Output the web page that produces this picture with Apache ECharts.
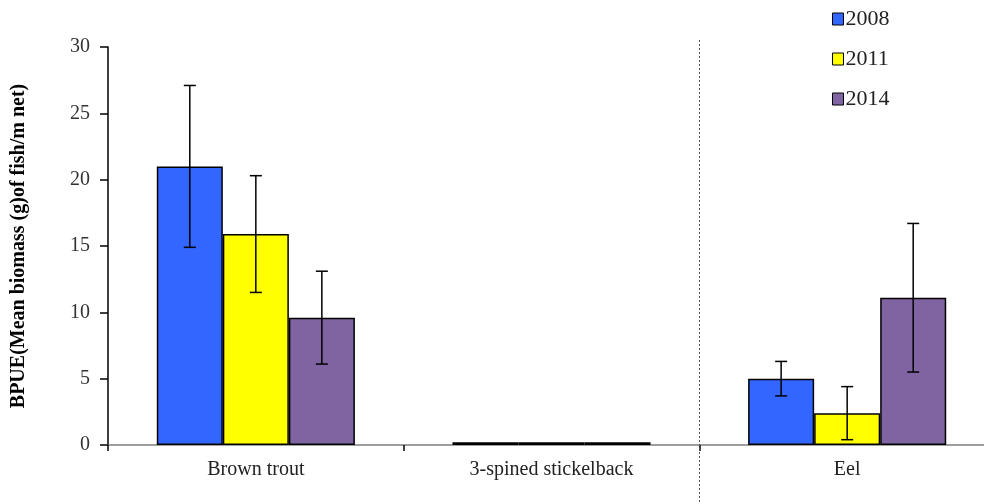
<!DOCTYPE html>
<html>
<head>
<meta charset="utf-8">
<script src="https://cdn.jsdelivr.net/npm/echarts@6/dist/echarts.min.js"></script>
<style>html,body{margin:0;padding:0;background:#fff}#c{width:984px;height:504px}</style>
</head>
<body>
<div id="c"></div>
<script>
var categories = ['Brown trout', '3-spined stickelback', 'Eel'];
var seriesNames = ['2008', '2011', '2014'];
var values2008 = [21.0, 0.2, 5.0];
var values2011 = [15.9, 0.2, 2.4];
var values2014 = [9.6, 0.2, 11.1];
var err2008 = [6.1, 0, 1.3];
var err2011 = [4.4, 0, 2.0];
var err2014 = [3.5, 0, 5.6];
var yTicks = [0, 5, 10, 15, 20, 25, 30];
var colors = ['#3366ff', '#ffff00', '#8064a2'];

var values = [values2008, values2011, values2014];
var errs = [err2008, err2011, err2014];
var font = '"Liberation Serif", "Times New Roman", serif';
var gapPct = 0.33;

var chart = echarts.init(document.getElementById('c'));
var series = [];
seriesNames.forEach(function (name, s) {
  series.push({
    name: name,
    type: 'bar',
    data: values[s],
    barGap: '0%',
    barCategoryGap: (gapPct * 100) + '%',
    itemStyle: { color: colors[s], borderColor: '#000', borderWidth: 1.5 },
    emphasis: { disabled: true }
  });
});
seriesNames.forEach(function (name, s) {
  var data = values[s].map(function (v, i) { return [i, v, errs[s][i]]; });
  series.push({
    type: 'custom',
    silent: true,
    z: 5,
    data: data,
    renderItem: function (params, api) {
      var err = api.value(2);
      if (!err) return null;
      var idx = api.value(0), v = api.value(1);
      var band = api.size([1, 0])[0];
      var bw = band * (1 - gapPct) / 3;
      var c = api.coord([idx, v]);
      var x = c[0] + (s - 1) * bw;
      var yTop = api.coord([idx, v + err])[1];
      var yBot = api.coord([idx, v - err])[1];
      var cap = 6;
      var st = { stroke: '#000', lineWidth: 1.5 };
      return { type: 'group', children: [
        { type: 'line', shape: { x1: x, y1: yTop, x2: x, y2: yBot }, style: st },
        { type: 'line', shape: { x1: x - cap, y1: yTop, x2: x + cap, y2: yTop }, style: st },
        { type: 'line', shape: { x1: x - cap, y1: yBot, x2: x + cap, y2: yBot }, style: st }
      ]};
    }
  });
});

chart.setOption({
  animation: false,
  backgroundColor: '#fff',
  grid: { left: 108, width: 887, top: 47, bottom: 59, outerBoundsMode: 'none', containLabel: false },
  legend: {
    data: seriesNames,
    orient: 'vertical',
    left: 832, top: 8,
    padding: 0,
    itemWidth: 11, itemHeight: 12,
    itemGap: 18,
    icon: 'rect',
    itemStyle: { borderColor: '#000', borderWidth: 1 },
    textStyle: { fontFamily: font, fontSize: 22, color: '#222', lineHeight: 20, padding: [0, 0, 0, -3] }
  },
  xAxis: {
    type: 'category',
    data: categories,
    axisLine: { lineStyle: { color: '#7f7f7f', width: 1.5 } },
    axisTick: { show: true, length: 6, lineStyle: { color: '#000', width: 1.5 } },
    axisLabel: { fontFamily: font, fontSize: 20, color: '#222', margin: 15 }
  },
  yAxis: {
    type: 'value',
    min: 0, max: 30, interval: 5,
    name: 'BPUE(Mean biomass (g)of fish/m net)',
    nameLocation: 'middle',
    nameGap: 79,
    nameTextStyle: { fontFamily: font, fontSize: 20, fontWeight: 'bold', color: '#000' },
    axisLine: { show: true, lineStyle: { color: '#000', width: 1.5 } },
    axisTick: { show: true, inside: false, length: 8, lineStyle: { color: '#000', width: 1.5 } },
    axisLabel: {
      fontFamily: font, fontSize: 20, color: '#333', margin: 18,
      formatter: function (v) { return yTicks.indexOf(v) >= 0 ? String(v) : ''; }
    },
    splitLine: { show: false }
  },
  series: series
});

var p1 = chart.convertToPixel({ xAxisIndex: 0 }, 1);
var p2 = chart.convertToPixel({ xAxisIndex: 0 }, 2);
var sepX = Math.round((p1 + p2) / 2) + 0.5;
chart.setOption({
  graphic: [{
    type: 'line', silent: true, z: 10,
    shape: { x1: sepX, y1: 40, x2: sepX, y2: 504 },
    style: { stroke: '#555', lineWidth: 1, lineDash: [2, 2] }
  }]
});
</script>
</body>
</html>
